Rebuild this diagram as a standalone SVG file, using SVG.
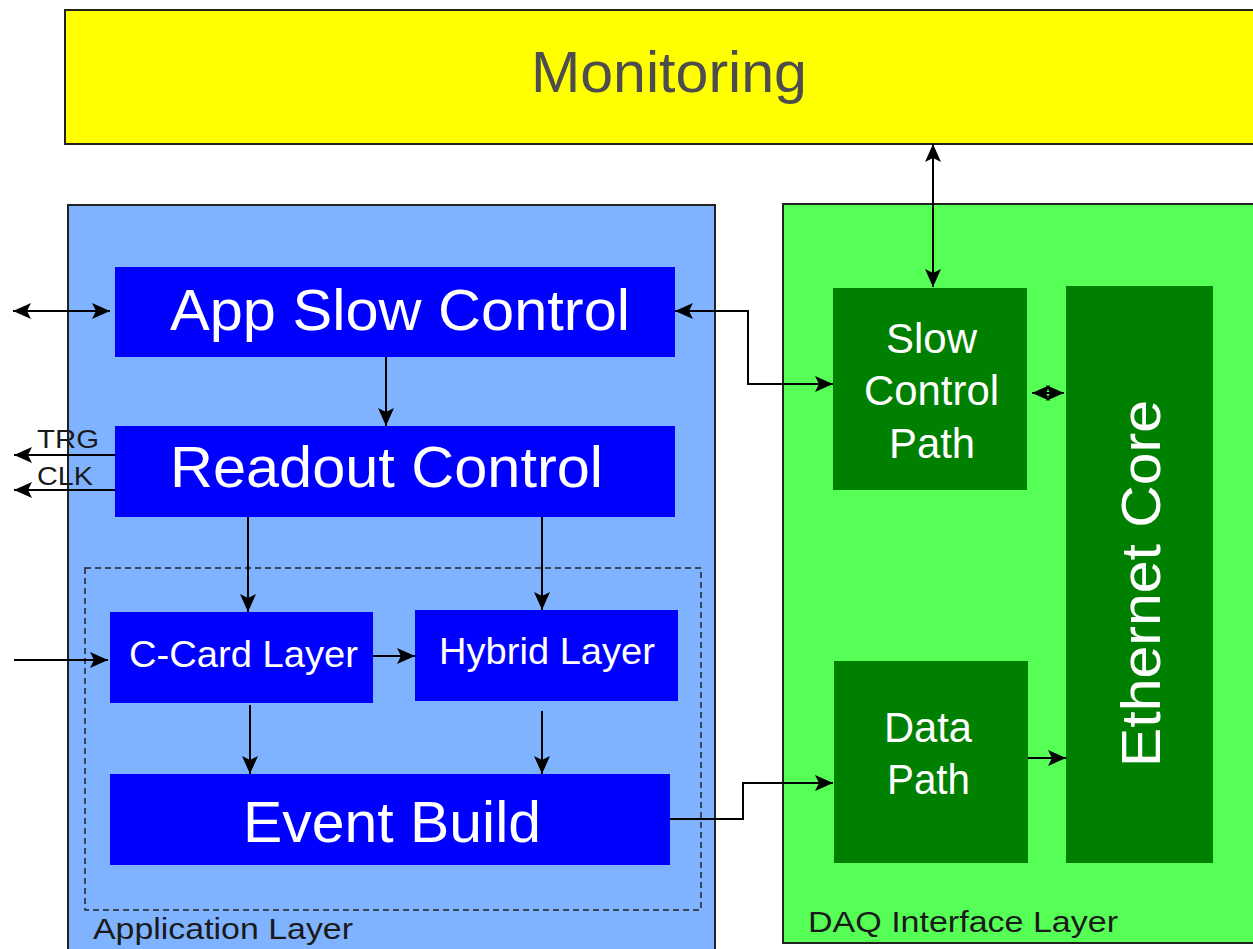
<svg xmlns="http://www.w3.org/2000/svg" width="1253" height="949" viewBox="0 0 1253 949">
<style>
.layer{stroke:#222;stroke-width:2}
.blue{fill:#0000ff}
.green{fill:#008000}
.wt{fill:#ffffff;font-family:"Liberation Sans",Arial,sans-serif;text-anchor:middle}
.lbl{fill:#1a1a1a;font-family:"Liberation Sans",Arial,sans-serif}
.conn{fill:none;stroke:#000;stroke-width:2}
</style>
<defs>
<marker id="ah" markerUnits="userSpaceOnUse" markerWidth="20" markerHeight="16" refX="18" refY="8" orient="auto-start-reverse">
<path d="M0,0 L18,8 L0,16 L4,8 z" fill="#000"/>
</marker>
</defs>
<rect width="1253" height="949" fill="#ffffff"/>
<g id="monitoring">
<rect class="layer" x="65" y="10" width="1200" height="134" fill="#ffff00"/>
<text x="669" y="92" font-family="Liberation Sans, Arial, sans-serif" font-size="58" fill="#4d4d4d" text-anchor="middle" textLength="276" lengthAdjust="spacingAndGlyphs">Monitoring</text>
</g>
<g id="application-layer">
<rect class="layer" x="68" y="205" width="647" height="760" fill="#80b3ff"/>
<rect x="85" y="568" width="616" height="342" fill="none" stroke="#222" stroke-width="1.5" stroke-dasharray="6,4"/>
<text class="lbl" x="93" y="939" font-size="30" textLength="260" lengthAdjust="spacingAndGlyphs">Application Layer</text>
</g>
<g id="daq-interface-layer">
<rect class="layer" x="783" y="204" width="480" height="739" fill="#55ff55"/>
<text class="lbl" x="808" y="932" font-size="30" textLength="310" lengthAdjust="spacingAndGlyphs">DAQ Interface Layer</text>
</g>
<g id="app-slow-control">
<rect class="blue" x="115" y="267" width="560" height="90"/>
<text class="wt" x="400" y="330" font-size="58" textLength="460" lengthAdjust="spacingAndGlyphs">App Slow Control</text>
</g>
<g id="readout-control">
<rect class="blue" x="115" y="426" width="560" height="91"/>
<text class="wt" x="386.5" y="487" font-size="58" textLength="433" lengthAdjust="spacingAndGlyphs">Readout Control</text>
</g>
<g id="c-card-layer">
<rect class="blue" x="110" y="612" width="263" height="91"/>
<text class="wt" x="243.5" y="667" font-size="37" textLength="229" lengthAdjust="spacingAndGlyphs">C-Card Layer</text>
</g>
<g id="hybrid-layer">
<rect class="blue" x="415" y="610" width="263" height="91"/>
<text class="wt" x="547" y="664" font-size="37" textLength="216" lengthAdjust="spacingAndGlyphs">Hybrid Layer</text>
</g>
<g id="event-build">
<rect class="blue" x="110" y="774" width="560" height="91"/>
<text class="wt" x="392" y="842" font-size="58" textLength="298" lengthAdjust="spacingAndGlyphs">Event Build</text>
</g>
<g id="slow-control-path">
<rect class="green" x="833" y="288" width="194" height="202"/>
<text class="wt" x="931.5" y="353" font-size="42" textLength="91" lengthAdjust="spacingAndGlyphs">Slow</text>
<text class="wt" x="931.5" y="405" font-size="42" textLength="135" lengthAdjust="spacingAndGlyphs">Control</text>
<text class="wt" x="932" y="458" font-size="42" textLength="86" lengthAdjust="spacingAndGlyphs">Path</text>
</g>
<g id="data-path">
<rect class="green" x="834" y="661" width="194" height="202"/>
<text class="wt" x="928" y="742" font-size="42" textLength="88" lengthAdjust="spacingAndGlyphs">Data</text>
<text class="wt" x="928.5" y="794" font-size="42" textLength="83" lengthAdjust="spacingAndGlyphs">Path</text>
</g>
<g id="ethernet-core">
<rect class="green" x="1066" y="286" width="147" height="577"/>
<text class="wt" x="0" y="0" font-size="56" textLength="367" lengthAdjust="spacingAndGlyphs" transform="translate(1160,583.5) rotate(-90)">Ethernet Core</text>
</g>
<g id="connectors">
<line class="conn" x1="13" y1="311" x2="110" y2="311" marker-start="url(#ah)" marker-end="url(#ah)"/>
<line class="conn" x1="386" y1="357" x2="386" y2="426" marker-end="url(#ah)"/>
<line class="conn" x1="115" y1="455" x2="14" y2="455" marker-end="url(#ah)"/>
<line class="conn" x1="115" y1="490" x2="14" y2="490" marker-end="url(#ah)"/>
<text class="lbl" x="37" y="448" font-size="26" textLength="62" lengthAdjust="spacingAndGlyphs">TRG</text>
<text class="lbl" x="37" y="485" font-size="26" textLength="56" lengthAdjust="spacingAndGlyphs">CLK</text>
<line class="conn" x1="248" y1="517" x2="248" y2="612" marker-end="url(#ah)"/>
<line class="conn" x1="542" y1="517" x2="542" y2="610" marker-end="url(#ah)"/>
<line class="conn" x1="14" y1="660" x2="108" y2="660" marker-end="url(#ah)"/>
<line class="conn" x1="373" y1="656" x2="415" y2="656" marker-end="url(#ah)"/>
<line class="conn" x1="250" y1="705" x2="250" y2="774" marker-end="url(#ah)"/>
<line class="conn" x1="542" y1="711" x2="542" y2="774" marker-end="url(#ah)"/>
<polyline class="conn" points="670,819 743,819 743,783 833,783" marker-end="url(#ah)"/>
<polyline class="conn" points="675,311 748,311 748,384 833,384" marker-start="url(#ah)" marker-end="url(#ah)"/>
<line class="conn" x1="933" y1="144" x2="933" y2="287" marker-start="url(#ah)" marker-end="url(#ah)"/>
<line class="conn" x1="1032" y1="393" x2="1064" y2="393" marker-start="url(#ah)" marker-end="url(#ah)"/>
<line class="conn" x1="1028" y1="758" x2="1066" y2="758" marker-end="url(#ah)"/>
</g>
</svg>
